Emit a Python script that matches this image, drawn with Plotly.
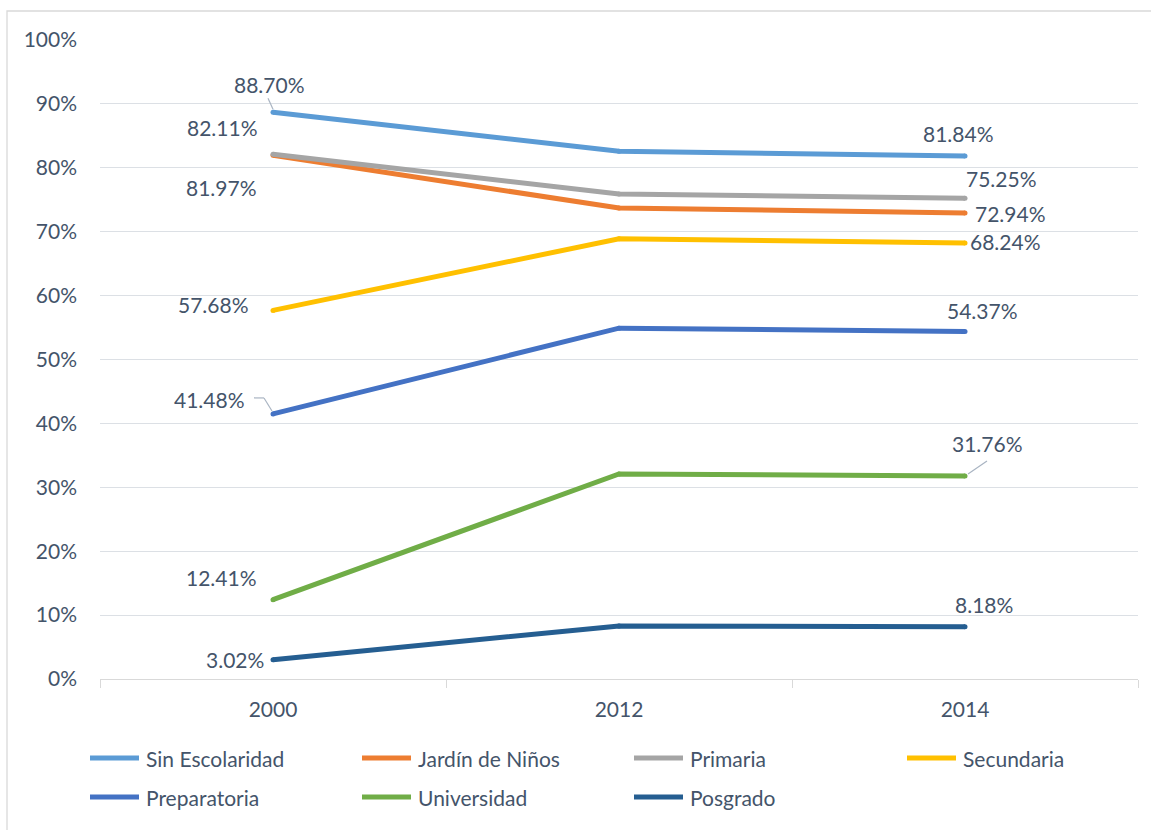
import plotly.graph_objects as go

# Share of each schooling level, by survey year
years = ["2000", "2012", "2014"]
sin_escolaridad = [0.8870, 0.826, 0.8184]
jardin_ninos = [0.8197, 0.737, 0.7294]
primaria = [0.8211, 0.759, 0.7525]
secundaria = [0.5768, 0.689, 0.6824]
preparatoria = [0.4148, 0.549, 0.5437]
universidad = [0.1241, 0.321, 0.3176]
posgrado = [0.0302, 0.083, 0.0818]

series = [
    ("Sin Escolaridad", sin_escolaridad, "#5B9BD5"),
    ("Jardín de Niños", jardin_ninos, "#ED7D31"),
    ("Primaria", primaria, "#A5A5A5"),
    ("Secundaria", secundaria, "#FFC000"),
    ("Preparatoria", preparatoria, "#4472C4"),
    ("Universidad", universidad, "#70AD47"),
    ("Posgrado", posgrado, "#255E91"),
]

# Labelled points: (series name, year index, x shift px, y shift px)
label_spots = [
    ("Sin Escolaridad", 0, -4, 28), ("Primaria", 0, -51, 27),
    ("Jardín de Niños", 0, -52, -32), ("Secundaria", 0, -60, 6),
    ("Preparatoria", 0, -64, 14), ("Universidad", 0, -52, 22),
    ("Posgrado", 0, -38, 0),
    ("Sin Escolaridad", 2, -7, 23), ("Primaria", 2, 36, 20),
    ("Jardín de Niños", 2, 45, -1), ("Secundaria", 2, 40, 1),
    ("Preparatoria", 2, 17, 21), ("Universidad", 2, 22, 33),
    ("Posgrado", 2, 19, 22),
]

W, H = 1151, 830
ML, MR, MT, MB = 100, 13, 40, 151
PW, PH = W - ML - MR, H - MT - MB
TEXT = "#44546A"
FONT = "Lato"
FS = 21


def px(x):
    return (x - ML) / PW


def py(y):
    return (H - MB - y) / PH


fig = go.Figure()
for name, vals, color in series:
    # small round markers give the lines rounded ends and joins
    fig.add_trace(go.Scatter(
        x=years, y=vals, mode="lines+markers", name=name,
        line=dict(color=color, width=5),
        marker=dict(color=color, size=5, line=dict(width=0)),
        showlegend=False, hoverinfo="skip",
    ))

lookup = {name: vals for name, vals, _ in series}
annotations = []
for name, i, dx, dy in label_spots:
    v = lookup[name][i]
    annotations.append(dict(
        x=i, y=v, xref="x", yref="y", text=f"{v * 100:.2f}%",
        showarrow=False, xshift=dx, yshift=dy,
        font=dict(family=FONT, size=FS, color=TEXT),
    ))

shapes = []
# chart frame
shapes.append(dict(type="rect", xref="paper", yref="paper",
                   x0=px(7), x1=px(1175), y0=py(11), y1=py(850),
                   line=dict(color="#D9D9D9", width=1.3), layer="below"))

# leader lines for a few labels
LEAD = "#A9B4C2"


def leader(i, val, segs):
    for (x0, y0), (x1, y1) in segs:
        shapes.append(dict(type="line", xref="x", yref="y",
                           xsizemode="pixel", ysizemode="pixel",
                           xanchor=i, yanchor=val,
                           x0=x0, y0=y0, x1=x1, y1=y1,
                           line=dict(color=LEAD, width=1.2)))


leader(0, sin_escolaridad[0], [((-5, 14), (0, 3))])
leader(0, preparatoria[0], [((-19, 16), (-9, 16)), ((-9, 16), (-1, 3))])
leader(2, universidad[2], [((3, 2), (22, 15))])

# legend, laid out in four columns
cols = [88, 360, 632, 905]
rows = [758, 797]
for k, (name, _, color) in enumerate(series):
    cx = cols[k % 4]
    ry = rows[k // 4]
    shapes.append(dict(type="line", xref="paper", yref="paper",
                       x0=px(cx + 2), x1=px(cx + 51), y0=py(ry), y1=py(ry),
                       line=dict(color=color, width=5)))
    annotations.append(dict(
        x=px(cx + 56), y=py(ry), xref="paper", yref="paper", text=name,
        showarrow=False, xanchor="left", yanchor="middle",
        font=dict(family=FONT, size=FS, color=TEXT),
    ))

fig.update_layout(
    width=W, height=H,
    margin=dict(l=ML, r=MR, t=MT, b=MB),
    paper_bgcolor="white", plot_bgcolor="white",
    font=dict(family=FONT, size=FS, color=TEXT),
    annotations=annotations, shapes=shapes,
    xaxis=dict(
        type="category", range=[-0.5, 2.5], tickson="boundaries",
        ticks="outside", ticklen=8, tickcolor="#D9D9D9", tickwidth=1.3,
        showline=True, linecolor="#D9D9D9", linewidth=1.3,
        showgrid=False, zeroline=False, ticklabelstandoff=12,
        tickfont=dict(family=FONT, size=FS, color=TEXT),
    ),
    yaxis=dict(
        range=[0, 1], dtick=0.1, tickformat=".0%",
        showgrid=True, gridcolor="#DCE0E5", gridwidth=1.3,
        zeroline=False, ticks="", ticklabelstandoff=22,
        tickfont=dict(family=FONT, size=FS, color=TEXT),
    ),
)

fig.write_html("out.html")
